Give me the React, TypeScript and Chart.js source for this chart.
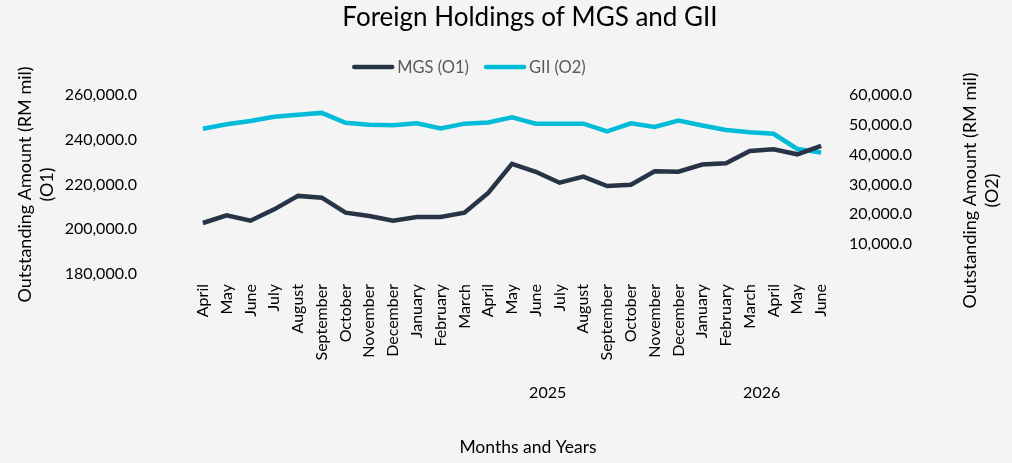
import React, { useEffect, useRef } from "react";
import { Chart, registerables } from "chart.js";

Chart.register(...registerables);

// Monthly categories, April 2024 through June 2026
const months = [
  "April", "May", "June", "July", "August", "September", "October", "November", "December",
  "January", "February", "March", "April", "May", "June", "July", "August", "September",
  "October", "November", "December",
  "January", "February", "March", "April", "May", "June",
];

// Year group each month belongs to (blank where no group label is shown)
const monthYears = [
  "", "", "", "", "", "", "", "", "",
  "2025", "2025", "2025", "2025", "2025", "2025", "2025", "2025", "2025", "2025", "2025", "2025",
  "2026", "2026", "2026", "2026", "2026", "2026",
];

// Outstanding amounts, RM mil
const mgsValues = [
  202800, 206200, 203800, 208900, 214900, 214100, 207400, 205900, 203800,
  205500, 205500, 207400, 216200, 229200, 225700, 220800, 223500, 219300,
  219900, 225900, 225700, 228900, 229500, 235000, 235700, 233500, 237300,
];
const giiValues = [
  48700, 50200, 51300, 52700, 53400, 54000, 50700, 50000, 49900,
  50500, 48800, 50400, 50800, 52500, 50400, 50400, 50400, 47800,
  50500, 49300, 51400, 49800, 48300, 47500, 47000, 41900, 40700,
];

const seriesNames = ["MGS (O1)", "GII (O2)"];
const chartTitle = "Foreign Holdings of MGS and GII";
const leftAxisTitle = ["Outstanding Amount (RM mil)", "(O1)"];
const rightAxisTitle = ["Outstanding Amount (RM mil)", "(O2)"];
const xAxisTitle = "Months and Years";

const FONT = "Lato, 'Open Sans', sans-serif";
const MGS_COLOR = "#263445";
const GII_COLOR = "#00bcd9";

const fmt = (v: number) =>
  v.toLocaleString("en-US", { minimumFractionDigits: 1, maximumFractionDigits: 1 });

// Title, legend, right axis title, year group labels and x axis title
const decorPlugin = {
  id: "decor",
  afterDraw(chart: any) {
    const ctx = chart.ctx;
    const area = chart.chartArea;
    const xs = chart.scales.x;
    const yr = chart.scales.y1;
    ctx.save();

    // title
    ctx.fillStyle = "#000";
    ctx.font = `26px ${FONT}`;
    ctx.textAlign = "center";
    ctx.textBaseline = "alphabetic";
    ctx.fillText(chartTitle, chart.width / 2 + 24, 26);

    // legend
    ctx.font = `16.5px ${FONT}`;
    const lineW = 42;
    const gap = 3;
    const itemGap = 15;
    const items = chart.data.datasets.map((d: any) => ({
      label: d.label,
      color: d.borderColor,
      w: lineW + gap + ctx.measureText(d.label).width,
    }));
    const total = items.reduce((s: number, it: any) => s + it.w, 0) + itemGap * (items.length - 1);
    let lx = 469 - total / 2;
    const ly = 67;
    items.forEach((it: any) => {
      ctx.strokeStyle = it.color;
      ctx.lineWidth = 4.5;
      ctx.lineCap = "round";
      ctx.beginPath();
      ctx.moveTo(lx + 2, ly);
      ctx.lineTo(lx + lineW - 2, ly);
      ctx.stroke();
      ctx.fillStyle = "#595959";
      ctx.textAlign = "left";
      ctx.textBaseline = "middle";
      ctx.fillText(it.label, lx + lineW + gap, ly + 1);
      lx += it.w + itemGap;
    });

    // right axis title, reading bottom to top
    ctx.fillStyle = "#000";
    ctx.font = `18px ${FONT}`;
    ctx.textAlign = "center";
    ctx.textBaseline = "middle";
    const cy = (area.top + area.bottom) / 2 + 6;
    rightAxisTitle.forEach((t, i) => {
      ctx.save();
      ctx.translate(yr.right - 42 + i * 22, cy);
      ctx.rotate(-Math.PI / 2);
      ctx.fillText(t, 0, 0);
      ctx.restore();
    });

    // year group labels, centred under each group of months
    ctx.font = `16px ${FONT}`;
    const groups: { year: string; first: number; last: number }[] = [];
    monthYears.forEach((y, i) => {
      if (!y) return;
      const g = groups[groups.length - 1];
      if (g && g.year === y) g.last = i;
      else groups.push({ year: y, first: i, last: i });
    });
    groups.forEach((g) => {
      const px = xs.getPixelForValue((g.first + g.last) / 2);
      ctx.fillText(g.year, px, 393);
    });

    // x axis title
    ctx.font = `17.5px ${FONT}`;
    ctx.fillText(xAxisTitle, (area.left + area.right) / 2 + 16, 447);

    ctx.restore();
  },
};

export default function App() {
  const ref = useRef<HTMLCanvasElement | null>(null);

  useEffect(() => {
    document.body.style.margin = "0";
    const chart = new Chart(ref.current as HTMLCanvasElement, {
      type: "line",
      data: {
        labels: months,
        datasets: [
          {
            label: seriesNames[0],
            data: mgsValues,
            borderColor: MGS_COLOR,
            backgroundColor: MGS_COLOR,
            borderWidth: 4.5,
            pointRadius: 0,
            tension: 0,
            yAxisID: "y",
          },
          {
            label: seriesNames[1],
            data: giiValues,
            borderColor: GII_COLOR,
            backgroundColor: GII_COLOR,
            borderWidth: 4.5,
            pointRadius: 0,
            tension: 0,
            yAxisID: "y1",
          },
        ],
      },
      plugins: [decorPlugin],
      options: {
        animation: false,
        responsive: true,
        maintainAspectRatio: false,
        layout: { padding: { top: 95, left: 0, right: 0, bottom: 0 } },
        plugins: {
          legend: { display: false },
          title: { display: false },
          tooltip: { enabled: false },
        },
        scales: {
          x: {
            offset: true,
            grid: { display: false, drawTicks: false },
            border: { display: false },
            ticks: {
              autoSkip: false,
              maxRotation: 90,
              minRotation: 90,
              padding: 10,
              color: "#000",
              font: { family: FONT, size: 16 },
            },
            afterFit: (s: any) => {
              s.height = 189;
            },
          },
          y: {
            position: "left",
            min: 180000,
            max: 260000,
            grid: { display: false, drawTicks: false },
            border: { display: false },
            ticks: {
              stepSize: 20000,
              padding: 54,
              color: "#000",
              font: { family: FONT, size: 16 },
              callback: (v: any) => fmt(Number(v)),
            },
            title: {
              display: true,
              text: leftAxisTitle,
              color: "#000",
              font: { family: FONT, size: 18, lineHeight: 1.22 },
              padding: { top: 14, bottom: 0 },
            },
            afterFit: (s: any) => {
              s.width = 191;
            },
          },
          y1: {
            position: "right",
            min: 0,
            max: 60000,
            grid: { display: false, drawTicks: false },
            border: { display: false },
            ticks: {
              stepSize: 10000,
              padding: 16,
              color: "#000",
              font: { family: FONT, size: 16 },
              callback: (v: any) => (Number(v) === 0 ? "" : fmt(Number(v))),
            },
            afterFit: (s: any) => {
              s.width = 179;
            },
          },
        },
      },
    });
    return () => chart.destroy();
  }, []);

  return (
    <div
      style={{
        position: "absolute",
        left: 0,
        top: 0,
        width: 1012,
        height: 463,
        background: "#f4f4f4",
      }}
    >
      <canvas ref={ref} />
    </div>
  );
}
